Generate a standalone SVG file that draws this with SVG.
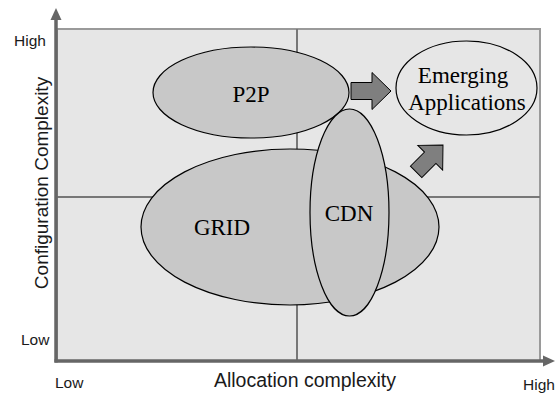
<svg xmlns="http://www.w3.org/2000/svg" width="555" height="394" viewBox="0 0 555 394">
<defs>
<style>
.sans{font-family:"Liberation Sans",Arial,sans-serif;fill:#1a1a1a}
.serif{font-family:"Liberation Serif","Times New Roman",serif;font-size:23px;fill:#000;text-anchor:middle}
.blob{fill:#c8c8c8;stroke:#000;stroke-width:1.2}
.arr{fill:#7f7f7f;stroke:#000;stroke-width:1}
.div{stroke:#777;stroke-width:2;fill:none}
.axis{stroke:#666;stroke-width:3.5;fill:none}
</style>
<path id="blk" d="M0,0 L-19,-18.5 L-19,-8.5 L-40,-8.5 L-40,8.5 L-19,8.5 L-19,18.5 Z"/>
</defs>
<rect x="57" y="29" width="483" height="332" fill="#e6e6e6" stroke="#9a9a9a" stroke-width="2"/>
<line class="div" x1="297" y1="29" x2="297" y2="361"/>
<line class="div" x1="57" y1="197" x2="540" y2="197"/>
<g id="grid"><ellipse class="blob" cx="290" cy="227" rx="149" ry="78"/><text class="serif" x="222" y="235">GRID</text></g>
<g id="p2p"><ellipse class="blob" cx="251" cy="92.5" rx="98" ry="45.5"/><text class="serif" x="251" y="102">P2P</text></g>
<g id="cdn"><ellipse class="blob" cx="349.5" cy="212.5" rx="39.5" ry="103.5"/><text class="serif" x="349" y="221">CDN</text></g>
<g id="emerging"><ellipse cx="466.5" cy="88" rx="70.5" ry="47" fill="#e6e6e6" stroke="#000" stroke-width="1.2"/><text class="serif" x="463" y="83">Emerging</text><text class="serif" x="467" y="110">Applications</text></g>
<g id="connectors">
<use href="#blk" class="arr" transform="translate(391,91)"/>
<use href="#blk" class="arr" transform="translate(443,145) rotate(-45) scale(0.95)"/>
</g>
<g id="axes">
<line class="axis" x1="56" y1="362.5" x2="56" y2="19"/>
<line class="axis" x1="54.5" y1="361" x2="544" y2="361"/>
<path d="M56,8 L50.5,20 L61.5,20 Z" fill="#666"/>
<path d="M555,361 L543,355.5 L543,366.5 Z" fill="#666"/>
</g>
<text class="sans" x="14" y="46" font-size="15.5">High</text>
<text class="sans" x="21" y="345" font-size="15.5">Low</text>
<text class="sans" x="55" y="388" font-size="15.5">Low</text>
<text class="sans" x="523" y="390" font-size="15.5">High</text>
<text class="sans" x="305" y="387" font-size="19.5" text-anchor="middle" fill="#000">Allocation complexity</text>
<text class="sans" transform="translate(48,183) rotate(-90)" font-size="19" text-anchor="middle">Configuration Complexity</text>
</svg>
